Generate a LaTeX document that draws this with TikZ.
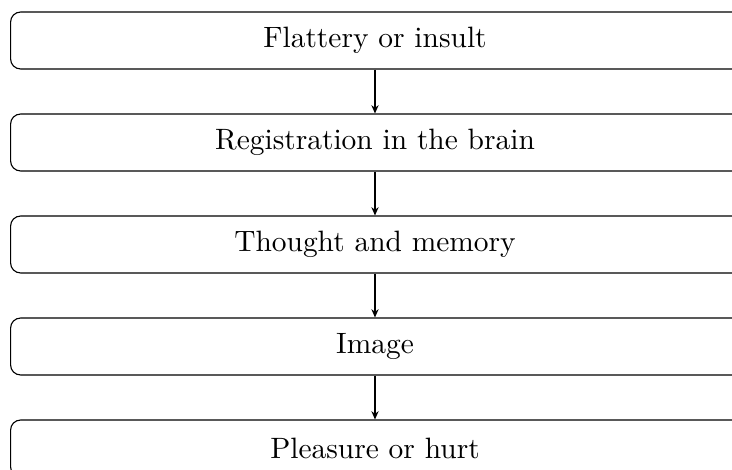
\documentclass[tikz,border=0pt]{standalone}
\usetikzlibrary{arrows.meta}
\begin{document}
\begin{tikzpicture}[x=0.36pt,y=0.36pt,
  stagebox/.style={draw, rounded corners=3.6pt, minimum width=269.8pt,
    minimum height=20.5pt, inner sep=0pt},
  stagetext/.style={xshift=-3.7pt, font=\fontsize{10.6}{13}\selectfont},
  flow/.style={-{Stealth[length=3pt,width=2.6pt]}, line width=0.4pt}]
  \useasboundingbox (0,0) rectangle (732,-470);
  \clip (0,0) rectangle (732,-470);
  \node[stagebox, label={[stagetext]center:Flattery or insult}] (s1) at (385.3,-40.5) {};
  \node[stagebox, label={[stagetext]center:Registration in the brain}] (s2) at (385.3,-142.5) {};
  \node[stagebox, label={[stagetext]center:Thought and memory}] (s3) at (385.3,-244.5) {};
  \node[stagebox, label={[stagetext]center:Image}] (s4) at (385.3,-346.5) {};
  \node[stagebox, label={[stagetext]center:Pleasure or hurt}] (s5) at (385.3,-448.5) {};
  \draw[flow] (s1.south -| 375,0) -- (s2.north -| 375,0);
  \draw[flow] (s2.south -| 375,0) -- (s3.north -| 375,0);
  \draw[flow] (s3.south -| 375,0) -- (s4.north -| 375,0);
  \draw[flow] (s4.south -| 375,0) -- (s5.north -| 375,0);
\end{tikzpicture}
\end{document}
